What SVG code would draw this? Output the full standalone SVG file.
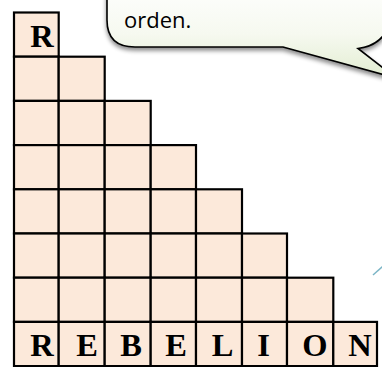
<svg xmlns="http://www.w3.org/2000/svg" width="382" height="367" viewBox="0 0 382 367">
<defs>
<linearGradient id="bub" x1="0" y1="0" x2="0" y2="1">
<stop offset="0" stop-color="#ffffff"/>
<stop offset="0.55" stop-color="#f6f9f0"/>
<stop offset="1" stop-color="#e2edd1"/>
</linearGradient>
<filter id="sh" x="-20%" y="-20%" width="140%" height="160%">
<feDropShadow dx="0" dy="3" stdDeviation="2" flood-color="#000" flood-opacity="0.45"/>
</filter>
<style>
.c{fill:#fce9da;stroke:#000;stroke-width:2.2}
.l{font-family:"Liberation Serif","Times New Roman",serif;font-weight:bold;font-size:32.5px;fill:#000;text-anchor:middle}
.t{font-family:"Open Sans","Liberation Sans",sans-serif;font-size:22px;fill:#000}
</style>
</defs>
<g id="bubble">
<path d="M107,-20 L107,20 Q107,47 135,47 L283,47 L396,78 L358,48.5 Q385,45 390,20 L390,-20 Z" fill="url(#bub)" stroke="#000" stroke-width="1.6" filter="url(#sh)"/>
<text class="t" x="124" y="28.3">orden.</text>
</g>
<g id="grid">
<g id="r1"><rect class="c" x="14" y="12.5" width="44.7" height="44.2"/><text class="l" x="42" y="46.5">R</text></g>
<g id="r2">
<rect class="c" x="14" y="56.7" width="44.7" height="44.2"/><rect class="c" x="58.7" y="56.7" width="46" height="44.2"/>
</g>
<g id="r3">
<rect class="c" x="14" y="100.9" width="44.7" height="44.2"/><rect class="c" x="58.7" y="100.9" width="46" height="44.2"/><rect class="c" x="104.7" y="100.9" width="46" height="44.2"/>
</g>
<g id="r4">
<rect class="c" x="14" y="145.1" width="44.7" height="44.2"/><rect class="c" x="58.7" y="145.1" width="46" height="44.2"/><rect class="c" x="104.7" y="145.1" width="46" height="44.2"/><rect class="c" x="150.7" y="145.1" width="45.3" height="44.2"/>
</g>
<g id="r5">
<rect class="c" x="14" y="189.3" width="44.7" height="44.2"/><rect class="c" x="58.7" y="189.3" width="46" height="44.2"/><rect class="c" x="104.7" y="189.3" width="46" height="44.2"/><rect class="c" x="150.7" y="189.3" width="45.3" height="44.2"/><rect class="c" x="196" y="189.3" width="46" height="44.2"/>
</g>
<g id="r6">
<rect class="c" x="14" y="233.5" width="44.7" height="44.2"/><rect class="c" x="58.7" y="233.5" width="46" height="44.2"/><rect class="c" x="104.7" y="233.5" width="46" height="44.2"/><rect class="c" x="150.7" y="233.5" width="45.3" height="44.2"/><rect class="c" x="196" y="233.5" width="46" height="44.2"/><rect class="c" x="242" y="233.5" width="45" height="44.2"/>
</g>
<g id="r7">
<rect class="c" x="14" y="277.7" width="44.7" height="44.2"/><rect class="c" x="58.7" y="277.7" width="46" height="44.2"/><rect class="c" x="104.7" y="277.7" width="46" height="44.2"/><rect class="c" x="150.7" y="277.7" width="45.3" height="44.2"/><rect class="c" x="196" y="277.7" width="46" height="44.2"/><rect class="c" x="242" y="277.7" width="45" height="44.2"/><rect class="c" x="287" y="277.7" width="46.3" height="44.2"/>
</g>
<g id="r8">
<rect class="c" x="14" y="321.9" width="44.7" height="44.2"/><rect class="c" x="58.7" y="321.9" width="46" height="44.2"/><rect class="c" x="104.7" y="321.9" width="46" height="44.2"/><rect class="c" x="150.7" y="321.9" width="45.3" height="44.2"/><rect class="c" x="196" y="321.9" width="46" height="44.2"/><rect class="c" x="242" y="321.9" width="45" height="44.2"/><rect class="c" x="287" y="321.9" width="46.3" height="44.2"/><rect class="c" x="333.3" y="321.9" width="43.7" height="44.2"/>
<text class="l" x="42" y="356">R</text>
<text class="l" x="87" y="356">E</text>
<text class="l" x="131" y="356">B</text>
<text class="l" x="176" y="356">E</text>
<text class="l" x="222.5" y="356">L</text>
<text class="l" x="263.5" y="356">I</text>
<text class="l" x="315" y="356">O</text>
<text class="l" x="360" y="356">N</text>
</g>
</g>
<g id="connectors">
<path d="M373,275 L383,266" stroke="#5aa3b8" stroke-width="1.5" fill="none" opacity="0.8"/>
</g>
</svg>
